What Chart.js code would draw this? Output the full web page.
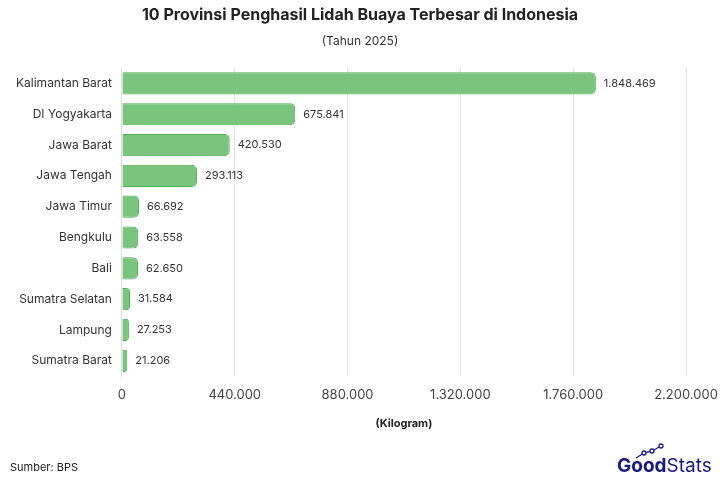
<!DOCTYPE html>
<html>
<head>
<meta charset="utf-8">
<script src="https://cdn.jsdelivr.net/npm/chart.js@4.4.0/dist/chart.umd.min.js"></script>
<style>
  html, body { margin: 0; padding: 0; background: #ffffff; }
  #wrap { position: relative; width: 720px; height: 480px; }
</style>
</head>
<body>
<div id="wrap"><canvas id="chart" width="720" height="480"></canvas></div>
<script>
// Data
const provinces = ["Kalimantan Barat", "DI Yogyakarta", "Jawa Barat", "Jawa Tengah", "Jawa Timur",
  "Bengkulu", "Bali", "Sumatra Selatan", "Lampung", "Sumatra Barat"];
const production = [1848469, 675841, 420530, 293113, 66692, 63558, 62650, 31584, 27253, 21206];
const xTicks = [0, 440000, 880000, 1320000, 1760000, 2200000];

const FONT = "Inter";
const fmt = v => v.toLocaleString("de-DE");

// Value labels at the end of each bar
const valueLabels = {
  id: "valueLabels",
  afterDatasetsDraw(chart) {
    const ctx = chart.ctx;
    const meta = chart.getDatasetMeta(0);
    ctx.save();
    ctx.font = "11px " + FONT;
    ctx.fillStyle = "#333333";
    ctx.textAlign = "left";
    ctx.textBaseline = "middle";
    meta.data.forEach((bar, i) => {
      ctx.fillText(fmt(production[i]), bar.x + 8, bar.y);
    });
    ctx.restore();
  }
};

// Title and subtitle centred on the full canvas, source note and logo
const decorations = {
  id: "decorations",
  afterDraw(chart) {
    const ctx = chart.ctx;
    const cx = chart.width / 2;
    ctx.save();
    ctx.textAlign = "center";
    ctx.textBaseline = "middle";
    ctx.fillStyle = "#222222";
    ctx.font = "bold 16px " + FONT;
    ctx.fillText("10 Provinsi Penghasil Lidah Buaya Terbesar di Indonesia", cx, 15);
    ctx.fillStyle = "#333333";
    ctx.font = "12px " + FONT;
    ctx.fillText("(Tahun 2025)", cx, 41);

    ctx.textAlign = "left";
    ctx.font = "11px " + FONT;
    ctx.fillStyle = "#222222";
    ctx.fillText("Sumber: BPS", 10, 468);

    // GoodStats wordmark
    ctx.fillStyle = "#1a1a7e";
    ctx.font = "bold 19px " + FONT;
    const goodW = ctx.measureText("Good").width;
    const x0 = 617;
    ctx.fillText("Good", x0, 466);
    ctx.font = "19px " + FONT;
    ctx.fillText("Stats", x0 + goodW, 466);

    // small trend icon above the "oo"
    ctx.strokeStyle = "#1a1a7e";
    ctx.lineWidth = 1.3;
    const pts = [[x0 + 19, 458], [x0 + 27, 453], [x0 + 35, 451], [x0 + 44, 446]];
    ctx.beginPath();
    pts.forEach((p, i) => i ? ctx.lineTo(p[0], p[1]) : ctx.moveTo(p[0], p[1]));
    ctx.stroke();
    pts.slice(1).forEach(p => {
      ctx.beginPath();
      ctx.arc(p[0], p[1], 2, 0, Math.PI * 2);
      ctx.fillStyle = "#ffffff";
      ctx.fill();
      ctx.stroke();
    });
    ctx.restore();
  }
};

new Chart(document.getElementById("chart"), {
  type: "bar",
  data: {
    labels: provinces,
    datasets: [{
      data: production,
      backgroundColor: "rgba(123, 196, 127, 1)",
      borderColor: "#4caf50",
      borderWidth: 1,
      borderRadius: 5,
      borderSkipped: "start",
      barPercentage: 0.72,
      categoryPercentage: 1
    }]
  },
  options: {
    indexAxis: "y",
    responsive: false,
    animation: false,
    layout: { padding: { left: 6, right: 34, top: 68, bottom: 46 } },
    plugins: {
      legend: { display: false },
      tooltip: { enabled: false },
      title: { display: false },
      subtitle: { display: false }
    },
    scales: {
      x: {
        min: 0,
        max: 2200000,
        afterBuildTicks(axis) { axis.ticks = xTicks.map(v => ({ value: v })); },
        afterFit(axis) { axis.paddingRight = 0; },
        grid: { color: "#e3e3e3", drawTicks: false },
        border: { display: false },
        ticks: {
          color: "#444444",
          padding: 11,
          font: { family: FONT, size: 13 },
          callback: v => fmt(v)
        },
        title: {
          display: true,
          text: "(Kilogram)",
          color: "#222222",
          font: { family: FONT, size: 11, weight: "bold" },
          padding: { top: 3 }
        }
      },
      y: {
        grid: { display: false, drawTicks: false },
        border: { display: true, color: "#dddddd" },
        ticks: {
          color: "#333333",
          padding: 10,
          font: { family: FONT, size: 12 }
        }
      }
    }
  },
  plugins: [valueLabels, decorations]
});
</script>
</body>
</html>
